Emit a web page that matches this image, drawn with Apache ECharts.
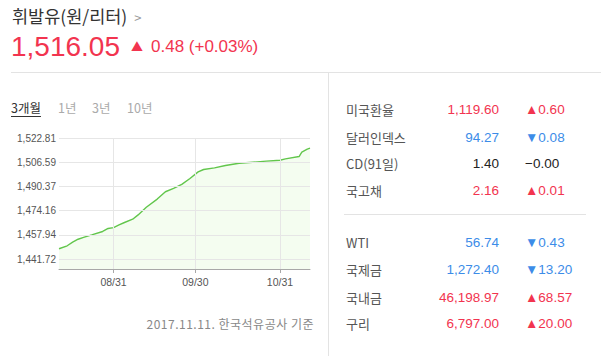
<!DOCTYPE html>
<html><head><meta charset="utf-8">
<script src="https://cdn.jsdelivr.net/npm/echarts@6/dist/echarts.min.js"></script>
<style>
html,body{margin:0;padding:0;background:#fff;width:614px;height:356px;overflow:hidden;font-family:"Noto Sans CJK KR","Liberation Sans",sans-serif;}
#chart{position:absolute;left:0;top:0;width:614px;height:356px;}
.t{position:absolute;white-space:nowrap;}
.red{color:#f2344f}.blue{color:#3c8ce8}.blk{color:#222}
.lab{color:#555;font-size:13px;left:346px;}
.val{font-family:"Liberation Sans",sans-serif;font-size:13.5px;right:115px;text-align:right;}
.chg{font-family:"Liberation Sans",sans-serif;font-size:13.5px;left:525px;}
</style></head><body>
<div id="chart"></div>
<div id="overlay"></div>
<script>
// ---- data ----
var dates = ['2017-08-11','2017-08-14','2017-08-16','2017-08-18','2017-08-20','2017-08-23','2017-08-27','2017-08-29','2017-08-31','2017-09-02','2017-09-04','2017-09-07','2017-09-09','2017-09-12','2017-09-16','2017-09-19','2017-09-22','2017-09-25','2017-09-28','2017-10-01','2017-10-03','2017-10-07','2017-10-11','2017-10-16','2017-10-21','2017-10-26','2017-10-31','2017-11-02','2017-11-07','2017-11-08','2017-11-10','2017-11-11'];
var prices = [1448.6,1450.6,1453.0,1455.0,1456.2,1457.9,1460.2,1462.2,1462.8,1464.6,1466.2,1468.4,1471.3,1476.4,1481.9,1486.8,1489.0,1491.7,1495.7,1500.1,1501.7,1502.8,1504.4,1505.9,1506.6,1507.3,1507.9,1508.8,1510.4,1513.4,1515.4,1516.05];
var yTicks = [1441.72,1457.94,1474.16,1490.37,1506.59,1522.81];
var xTickDates = ['2017-08-31','2017-09-30','2017-10-31'];
var xStart = '2017-08-11', xEnd = '2017-11-11';
var yMin = 1435.05, yMax = 1522.81;

var tabs = ['3개월','1년','3년','10년'];
var groupA = [
  ['미국환율','1,119.60','▲0.60','red'],
  ['달러인덱스','94.27','▼0.08','blue'],
  ['CD(91일)','1.40','−0.00','blk'],
  ['국고채','2.16','▲0.01','red']
];
var groupB = [
  ['WTI','56.74','▼0.43','blue'],
  ['국제금','1,272.40','▼13.20','blue'],
  ['국내금','46,198.97','▲68.57','red'],
  ['구리','6,797.00','▲20.00','red']
];

// ---- HTML parts ----
function ts(s){ var p=s.split('-'); return new Date(+p[0], +p[1]-1, +p[2]).getTime(); }
var ov = document.getElementById('overlay');
var h = '';
h += '<div class="t" style="left:12px;top:3px;font-size:17.5px;line-height:26px;color:#333;">휘발유(원/리터)<span style="color:#999;font-size:13px;margin-left:7px;">&gt;</span></div>';
h += '<div class="t red" style="left:11px;top:29px;font-size:28px;line-height:36px;font-family:\'Liberation Sans\',sans-serif;">1,516.05</div>';
h += '<div class="t red" style="left:131px;top:37px;font-size:12px;line-height:20px;">▲</div>';
h += '<div class="t red" style="left:151px;top:36px;font-size:17px;line-height:22px;font-family:\'Liberation Sans\',sans-serif;">0.48 (+0.03%)</div>';
h += '<div class="t" style="left:11px;top:72px;width:590px;height:1px;background:#e3e3e3;"></div>';
h += '<div class="t" style="left:328px;top:72px;width:1px;height:284px;background:#e3e3e3;"></div>';
var tabX = [11,58,92,127];
tabs.forEach(function(tb,i){
  var st = i===0 ? 'color:#333;text-decoration:underline;text-underline-offset:3px;' : 'color:#aaa;';
  h += '<div class="t" style="left:'+tabX[i]+'px;top:99px;font-size:12.5px;line-height:18px;'+st+'">'+tb+'</div>';
});
h += '<div class="t" style="right:300px;top:315px;font-size:12px;letter-spacing:0.5px;line-height:18px;color:#888;">2017.11.11. 한국석유공사 기준</div>';
function rows(g, ys){
  g.forEach(function(r,i){
    var y = ys[i]-10;
    h += '<div class="t lab" style="top:'+y+'px;line-height:20px;">'+r[0]+'</div>';
    h += '<div class="t val '+r[3]+'" style="top:'+y+'px;line-height:20px;">'+r[1]+'</div>';
    h += '<div class="t chg '+r[3]+'" style="top:'+y+'px;line-height:20px;">'+r[2]+'</div>';
  });
}
rows(groupA,[110,137.5,163.5,190.5]);
h += '<div class="t" style="left:344px;top:214px;width:242px;height:1px;background:#e3e3e3;"></div>';
rows(groupB,[243,270,297.5,324]);
ov.innerHTML = h;

// ---- chart ----
var chart = echarts.init(document.getElementById('chart'), null, {renderer:'svg'});
var seriesData = dates.map(function(d,i){ return [ts(d), prices[i]]; });
var fmt = function(v){ return Number(v).toLocaleString('en-US',{minimumFractionDigits:2,maximumFractionDigits:2}); };
var mmdd = function(v){ var d=new Date(v); var m=d.getMonth()+1, dd=d.getDate(); return (m<10?'0':'')+m+'/'+(dd<10?'0':'')+dd; };
chart.setOption({
  animation:false,
  grid:{left:59,top:138,width:251,height:131,containLabel:false},
  xAxis:{type:'value',min:ts(xStart),max:ts(xEnd),
    axisLine:{lineStyle:{color:'#a8a8a8',width:1}},
    axisTick:{show:true,length:4,lineStyle:{color:'#a8a8a8'},customValues:xTickDates.map(ts)},
    axisLabel:{color:'#555',fontSize:10.5,fontFamily:'Liberation Sans',margin:7,customValues:xTickDates.map(ts),formatter:mmdd},
    splitLine:{show:false}},
  yAxis:{type:'value',min:yMin,max:yMax,
    axisLine:{show:false},axisTick:{show:false},splitLine:{show:false},
    axisLabel:{color:'#555',fontSize:10,fontFamily:'Liberation Sans',margin:3,customValues:yTicks,formatter:fmt}},
  series:[
    {type:'line',data:[],silent:true,z:1,
      markLine:{silent:true,symbol:'none',label:{show:false},animation:false,
        lineStyle:{color:'#e6e6e6',width:1,type:'solid'},
        data:yTicks.map(function(v){return {yAxis:v};}).concat(xTickDates.map(function(d){return {xAxis:ts(d)};}))}},
    {type:'line',data:seriesData,showSymbol:false,symbol:'none',z:3,
      lineStyle:{color:'#62c64c',width:1.4},
      areaStyle:{color:'rgba(120,230,70,0.11)'}}
  ]
});
</script>
</body></html>
